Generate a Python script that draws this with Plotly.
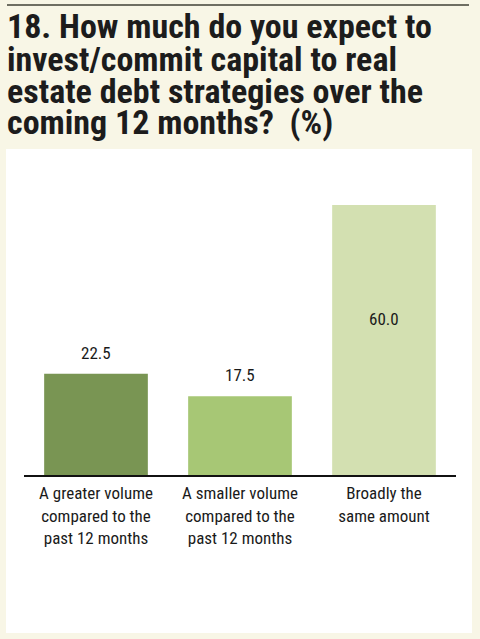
import plotly.graph_objects as go

# survey answers and shares (%)
categories = [
    "A greater volume<br>compared to the<br>past 12 months",
    "A smaller volume<br>compared to the<br>past 12 months",
    "Broadly the<br>same amount",
]
values = [22.5, 17.5, 60.0]
bar_colors = ["#799553", "#a7c775", "#d3e0b1"]
value_labels = ["22.5", "17.5", "60.0"]

title_lines = [
    "18. How much do you expect to",
    "invest/commit capital to real",
    "estate debt strategies over the",
    "coming 12 months?  (%)",
]

W, H = 480, 639
L, R, T, B = 24, 24, 160, 164
PW, PH = W - L - R, H - T - B


def px_x(x):
    return (x - L) / PW


def px_y(y):
    return (H - B - y) / PH


narrow = "Roboto Condensed, Roboto, sans-serif"

fig = go.Figure()
fig.add_trace(go.Bar(
    x=categories,
    y=values,
    marker=dict(color=bar_colors, line=dict(width=0)),
    width=0.72,
    hoverinfo="skip",
))

annotations = []
for i, (c, v, t) in enumerate(zip(categories, values, value_labels)):
    if v > 40:
        annotations.append(dict(x=c, y=v / 2, text=t, showarrow=False,
                                yanchor="middle", yshift=21,
                                font=dict(family=narrow, size=17, color="#1a1a1a")))
    else:
        annotations.append(dict(x=c, y=v, text=t, showarrow=False,
                                yanchor="bottom", yshift=9,
                                font=dict(family=narrow, size=17, color="#1a1a1a")))

title_centers = [26, 59, 91, 122]
for line, yc in zip(title_lines, title_centers):
    annotations.append(dict(x=px_x(5), y=px_y(yc), xref="paper", yref="paper",
                            text="<b>" + line + "</b>", showarrow=False,
                            xanchor="left", yanchor="middle",
                            font=dict(family=narrow, size=34, color="#1c1c1c")))

shapes = [
    dict(type="rect", xref="paper", yref="paper", layer="below",
         x0=px_x(6), x1=px_x(472), y0=px_y(633), y1=px_y(149),
         fillcolor="white", line=dict(width=0)),
    dict(type="line", xref="paper", yref="paper",
         x0=px_x(7), x1=px_x(469), y0=px_y(5), y1=px_y(5),
         line=dict(color="#6e6e62", width=2)),
]

fig.update_layout(
    width=W,
    height=H,
    margin=dict(l=L, r=R, t=T, b=B),
    paper_bgcolor="#f8f6e6",
    plot_bgcolor="rgba(0,0,0,0)",
    showlegend=False,
    annotations=annotations,
    shapes=shapes,
    bargap=0.28,
)
fig.update_xaxes(
    showline=True, linecolor="#111111", linewidth=2,
    showgrid=False, zeroline=False,
    ticks="outside", ticklen=2, tickcolor="rgba(0,0,0,0)",
    tickfont=dict(family=narrow, size=17, color="#1a1a1a"),
    fixedrange=True,
)
fig.update_yaxes(visible=False, range=[0, 70], fixedrange=True)

fig.write_html(
    "out.html",
    config={"displayModeBar": False},
    post_script="document.body.style.margin='0';document.body.style.overflow='hidden';",
)
